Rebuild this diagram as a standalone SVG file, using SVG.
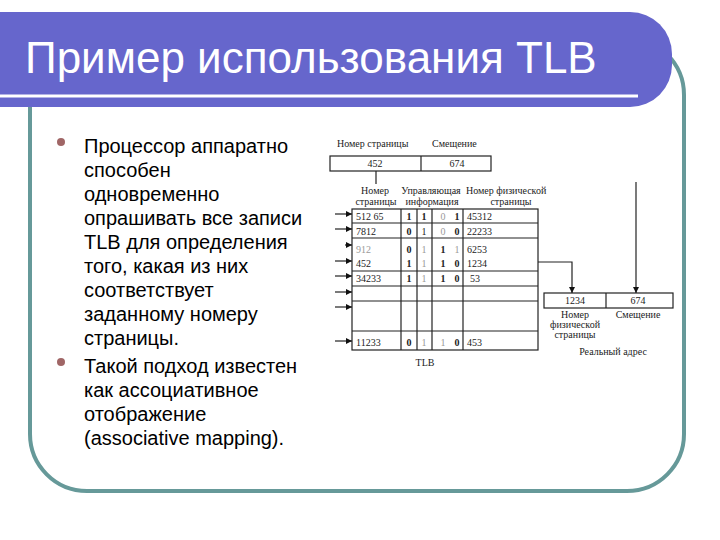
<svg xmlns="http://www.w3.org/2000/svg" width="720" height="540" viewBox="0 0 720 540">
<defs>
<style>
.body{font-family:"Liberation Sans",Arial,sans-serif;font-size:20px;fill:#000}
.title{font-family:"Liberation Sans",Arial,sans-serif;font-size:44px;fill:#fff}
.fig{font-family:"Liberation Serif","Times New Roman",serif;font-size:10px;fill:#222}
.mid{text-anchor:middle}
.faint{fill:#999}
.bold{font-weight:bold}
.ln{stroke:#222;stroke-width:1.2;fill:none}
.box{stroke:#222;stroke-width:1.2;fill:#fff}
.bullet{fill:#A06666}
</style>
<marker id="ah" viewBox="0 0 10 10" refX="10" refY="5" markerWidth="7" markerHeight="6" markerUnits="userSpaceOnUse" orient="auto">
<path d="M0,0 L10,5 L0,10 Z" fill="#111"/>
</marker>
</defs>
<rect width="720" height="540" fill="#fff"/>
<g id="frame">
<rect x="30" y="38" width="654" height="453" rx="57" ry="57" fill="none" stroke="#669999" stroke-width="4"/>
</g>
<g id="title-bar">
<path d="M-5,12 H630 A42,42 0 0 1 672,54 V65 A42,42 0 0 1 630,107 H-5 Z" fill="#6666CC"/>
<line x1="0" y1="96" x2="638" y2="96" stroke="#fff" stroke-width="3"/>
<text class="title" x="25" y="73">Пример использования TLB</text>
</g>
<g id="bullets">
<circle class="bullet" cx="61" cy="142" r="4"/>
<circle class="bullet" cx="61" cy="362" r="4"/>
<text class="body" x="84" y="153">Процессор аппаратно</text>
<text class="body" x="84" y="177">способен</text>
<text class="body" x="84" y="201">одновременно</text>
<text class="body" x="84" y="225">опрашивать все записи</text>
<text class="body" x="84" y="249">TLB для определения</text>
<text class="body" x="84" y="273">того, какая из них</text>
<text class="body" x="84" y="297">соответствует</text>
<text class="body" x="84" y="321">заданному номеру</text>
<text class="body" x="84" y="345">страницы.</text>
<text class="body" x="84" y="373">Такой подход известен</text>
<text class="body" x="84" y="397">как ассоциативное</text>
<text class="body" x="84" y="421">отображение</text>
<text class="body" x="84" y="445">(associative mapping).</text>
</g>
<g id="virtual-address">
<text class="fig" x="337" y="147">Номер страницы</text>
<text class="fig" x="432" y="147">Смещение</text>
<rect class="box" x="330" y="156" width="161" height="15"/>
<line class="ln" x1="421" y1="156" x2="421" y2="171"/>
<text class="fig mid" x="375" y="167">452</text>
<text class="fig mid" x="457" y="167">674</text>
</g>
<g id="tlb">
<text class="fig mid" x="375" y="194">Номер</text>
<text class="fig mid" x="376" y="205">страницы</text>
<text class="fig mid" x="431" y="194">Управляющая</text>
<text class="fig mid" x="432" y="205">информация</text>
<text class="fig" x="466" y="194">Номер физической</text>
<text class="fig mid" x="511" y="205">страницы</text>
<rect class="box" x="352" y="209" width="186" height="141"/>
<line class="ln" x1="352" y1="223" x2="538" y2="223"/>
<line class="ln" x1="352" y1="238" x2="538" y2="238"/>
<line class="ln" x1="352" y1="271" x2="538" y2="271"/>
<line class="ln" x1="352" y1="286" x2="538" y2="286"/>
<line class="ln" x1="352" y1="301" x2="538" y2="301"/>
<line class="ln" x1="352" y1="331" x2="538" y2="331"/>
<line class="ln" x1="401" y1="209" x2="401" y2="350"/>
<line class="ln" x1="417" y1="209" x2="417" y2="350"/>
<line class="ln" x1="432" y1="209" x2="432" y2="350"/>
<line class="ln" x1="463" y1="209" x2="463" y2="350"/>
<text class="fig" x="356" y="219.5">512 65</text>
<text class="fig mid bold" x="409" y="219.5">1</text>
<text class="fig mid bold" x="424" y="219.5">1</text>
<text class="fig mid faint" x="443" y="219.5">0</text>
<text class="fig mid bold" x="457" y="219.5">1</text>
<text class="fig" x="467" y="219.5">45312</text>
<text class="fig" x="356" y="234.5">7812</text>
<text class="fig mid bold" x="409" y="234.5">0</text>
<text class="fig mid" x="424" y="234.5">1</text>
<text class="fig mid faint" x="443" y="234.5">0</text>
<text class="fig mid bold" x="457" y="234.5">0</text>
<text class="fig" x="467" y="234.5">22233</text>
<text class="fig faint" x="356" y="252.5">912</text>
<text class="fig mid bold" x="409" y="252.5">0</text>
<text class="fig mid faint" x="424" y="252.5">1</text>
<text class="fig mid bold" x="443" y="252.5">1</text>
<text class="fig mid faint" x="457" y="252.5">1</text>
<text class="fig" x="467" y="252.5">6253</text>
<text class="fig" x="356" y="266.5">452</text>
<text class="fig mid bold" x="409" y="266.5">1</text>
<text class="fig mid faint" x="424" y="266.5">1</text>
<text class="fig mid bold" x="443" y="266.5">1</text>
<text class="fig mid bold" x="457" y="266.5">0</text>
<text class="fig" x="467" y="266.5">1234</text>
<text class="fig" x="356" y="281.5">34233</text>
<text class="fig mid bold" x="409" y="281.5">1</text>
<text class="fig mid faint" x="424" y="281.5">1</text>
<text class="fig mid bold" x="443" y="281.5">1</text>
<text class="fig mid bold" x="457" y="281.5">0</text>
<text class="fig" x="470" y="281.5">53</text>
<text class="fig" x="356" y="345.5">11233</text>
<text class="fig mid bold" x="409" y="345.5">0</text>
<text class="fig mid faint" x="424" y="345.5">1</text>
<text class="fig mid faint" x="443" y="345.5">1</text>
<text class="fig mid bold" x="457" y="345.5">0</text>
<text class="fig" x="467" y="345.5">453</text>
<text class="fig mid" x="425" y="366">TLB</text>
</g>
<g id="real-address">
<rect class="box" x="544" y="293" width="129" height="15"/>
<line class="ln" x1="606" y1="293" x2="606" y2="308"/>
<text class="fig mid" x="575" y="304">1234</text>
<text class="fig mid" x="638" y="304">674</text>
<text class="fig mid" x="575" y="318">Номер</text>
<text class="fig mid" x="575" y="328">физической</text>
<text class="fig mid" x="575" y="338">страницы</text>
<text class="fig mid" x="638" y="318">Смещение</text>
<text class="fig mid" x="613" y="355">Реальный адрес</text>
</g>
<g id="connectors">
<line class="ln" x1="376" y1="171" x2="376" y2="184"/>
<line class="ln" x1="335" y1="214" x2="352" y2="214" marker-end="url(#ah)"/>
<line class="ln" x1="335" y1="229" x2="352" y2="229" marker-end="url(#ah)"/>
<line class="ln" x1="345" y1="245" x2="352" y2="245" marker-end="url(#ah)"/>
<line class="ln" x1="335" y1="261" x2="352" y2="261" marker-end="url(#ah)"/>
<line class="ln" x1="335" y1="276" x2="352" y2="276" marker-end="url(#ah)"/>
<line class="ln" x1="335" y1="292" x2="352" y2="292" marker-end="url(#ah)"/>
<line class="ln" x1="335" y1="307" x2="352" y2="307" marker-end="url(#ah)"/>
<line class="ln" x1="335" y1="341" x2="352" y2="341" marker-end="url(#ah)"/>
<path class="ln" d="M538,262 H572 V293" marker-end="url(#ah)"/>
<line class="ln" x1="636" y1="182" x2="636" y2="293" marker-end="url(#ah)"/>
</g>
</svg>
